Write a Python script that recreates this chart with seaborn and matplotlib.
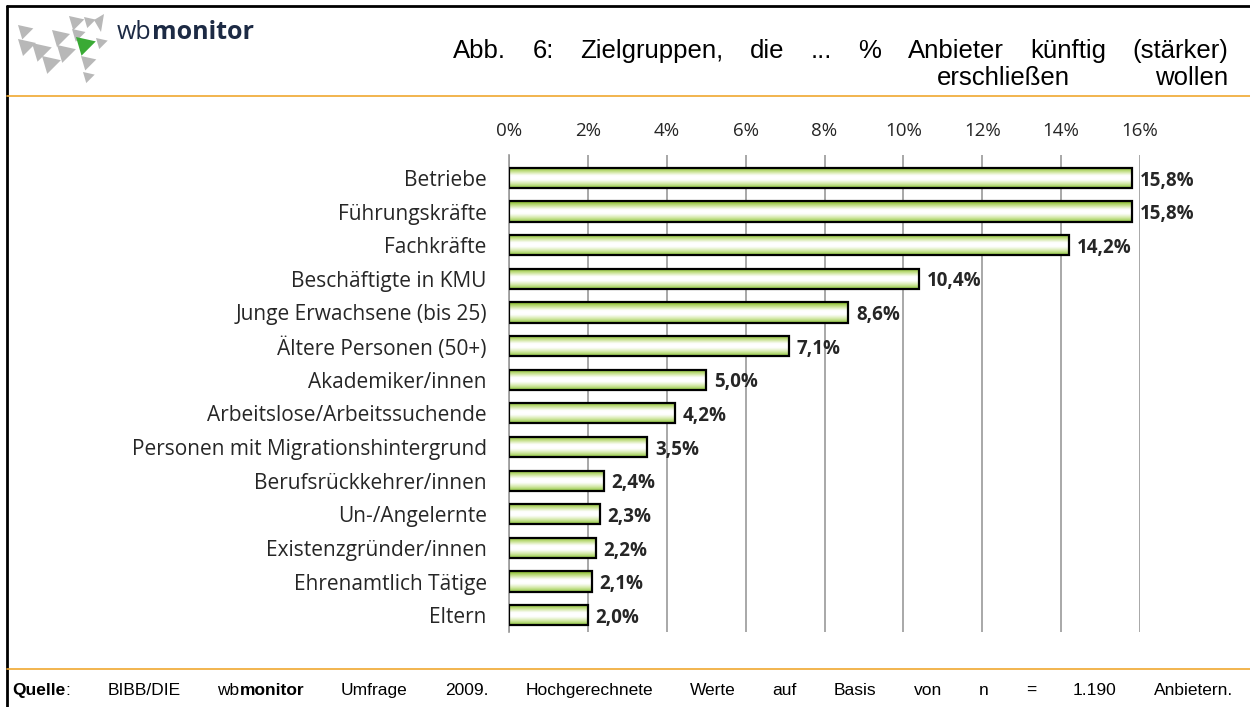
import numpy as np
import pandas as pd
import matplotlib
matplotlib.use('Agg')
import matplotlib.pyplot as plt
import seaborn as sns
from matplotlib.patches import Polygon
from matplotlib.lines import Line2D
from matplotlib.colors import LinearSegmentedColormap

# Data
groups = ['Betriebe', 'Führungskräfte', 'Fachkräfte', 'Beschäftigte in KMU',
          'Junge Erwachsene (bis 25)', 'Ältere Personen (50+)', 'Akademiker/innen',
          'Arbeitslose/Arbeitssuchende', 'Personen mit Migrationshintergrund',
          'Berufsrückkehrer/innen', 'Un-/Angelernte', 'Existenzgründer/innen',
          'Ehrenamtlich Tätige', 'Eltern']
shares = [15.8, 15.8, 14.2, 10.4, 8.6, 7.1, 5.0, 4.2, 3.5, 2.4, 2.3, 2.2, 2.1, 2.0]
ticks = [0, 2, 4, 6, 8, 10, 12, 14, 16]

df = pd.DataFrame({'Zielgruppe': groups, 'Anteil': shares})

sns.set_style('white')
plt.rcParams['font.family'] = ['Open Sans', 'DejaVu Sans']
ARIAL = ['Liberation Sans', 'DejaVu Sans']

fig = plt.figure(figsize=(12.5, 7.07), dpi=100)
W, H = 1250, 707
ax = fig.add_axes([509 / W, 1 - 632 / H, 631 / W, (632 - 155) / H])

sns.barplot(data=df, x='Anteil', y='Zielgruppe', orient='h', ax=ax,
            color='white', edgecolor='black', linewidth=1.6, width=0.6,
            zorder=3)

# gradient fill: green at the edges, white in the middle
cmap = LinearSegmentedColormap.from_list(
    'g', ['#7fb51e', '#c5e08a', '#ffffff', '#ffffff', '#d3e8a6', '#8cc43a'])
grad = np.linspace(0, 1, 64).reshape(-1, 1)
for bar in ax.patches:
    x0, y0 = bar.get_x(), bar.get_y()
    w, h = bar.get_width(), bar.get_height()
    im = ax.imshow(grad, cmap=cmap, aspect='auto',
                   extent=[x0, x0 + w, y0 + h, y0], zorder=3.5,
                   interpolation='bicubic')
    im.set_clip_path(bar)
    bar.set_facecolor('none')
    bar.set_zorder(4)

ax.set_xlim(0, 16)
ax.set_ylim(13.5, -0.68)
ax.set_xticks(ticks)
ax.set_xticklabels([f'{t}%' for t in ticks], fontsize=13.5)
ax.xaxis.tick_top()
ax.tick_params(axis='x', length=0, pad=11)
ax.tick_params(axis='y', length=0, pad=16, labelsize=15)
ax.set_xlabel('')
ax.set_ylabel('')
ax.grid(axis='x', color='#9a9a9a', linewidth=1.2, zorder=0)
for s in ['top', 'right', 'bottom']:
    ax.spines[s].set_visible(False)
ax.spines['left'].set_color('#9a9a9a')
ax.spines['left'].set_linewidth(1.2)

for i, v in enumerate(shares):
    ax.text(v + 0.2, i + 0.08, f'{v:.1f}%'.replace('.', ','), va='center',
            ha='left', fontsize=13.5, fontweight='bold', zorder=5)

# frame and separator lines
fig.add_artist(Line2D([7 / W, 7 / W], [0, 1 - 6 / H], color='black', lw=2))
fig.add_artist(Line2D([7 / W, 1], [1 - 6 / H, 1 - 6 / H], color='black', lw=2))
fig.add_artist(Line2D([7 / W, 1], [1 - 96 / H, 1 - 96 / H], color='#f0a830', lw=1.2))
fig.add_artist(Line2D([7 / W, 1], [1 - 669 / H, 1 - 669 / H], color='#f0a830', lw=1.2))

# logo triangles (same shape, different anchor and scale)
def tri(x, y, s, color='#b8b8b8'):
    pts = [(x, y), (x + 18 * s, y + 4 * s), (x + 5 * s, y + 17 * s)]
    fig.add_artist(Polygon([(px / W, 1 - py / H) for px, py in pts], closed=True,
                           facecolor=color, edgecolor='none'))

for x, y, s in [(18, 25, 0.85), (18, 39, 1.0), (32, 43, 1.1), (42, 56, 1.05),
                (52, 30, 1.0), (57, 45, 1.05), (69, 16, 0.85), (72, 29, 0.75),
                (84, 17, 0.65), (96, 38, 0.65), (81, 56, 0.85), (83, 72, 0.65)]:
    tri(x, y, s)
fig.add_artist(Polygon([(94 / W, 1 - 20 / H), (104 / W, 1 - 14 / H), (101 / W, 1 - 32 / H)],
                       closed=True, facecolor='#b8b8b8', edgecolor='none'))
tri(76, 37, 1.1, '#3aaa35')

fig.canvas.draw()
r = fig.canvas.get_renderer()


def put_word(x, y, segs, size, family, color='black', dry=False):
    start = x
    for txt, wt in segs:
        t = fig.text(x / W, 1 - y / H, txt, fontsize=size, fontweight=wt,
                     family=family, va='baseline', ha='left', color=color)
        x += t.get_window_extent(r).width
        if dry:
            t.remove()
    return x - start


def justified(words, x0, x1, y, size, family):
    # spread words evenly between x0 and x1 (the original text is letter-spaced)
    widths = [put_word(0, y, wd, size, family, dry=True) for wd in words]
    gap = (x1 - x0 - sum(widths)) / (len(words) - 1)
    x = x0
    for wd, w in zip(words, widths):
        put_word(x, y, wd, size, family)
        x += w + gap


put_word(117, 39, [('wb', 'normal'), ('monitor', 'bold')], 18,
         ['Open Sans', 'DejaVu Sans'], color='#1c2a44')

title1 = 'Abb. 6: Zielgruppen, die ... % Anbieter künftig (stärker)'.split(' ')
title2 = 'erschließen wollen'.split(' ')
justified([[(w, 'normal')] for w in title1], 453, 1228, 58, 18.5, ARIAL)
justified([[(w, 'normal')] for w in title2], 937, 1228, 85, 18.5, ARIAL)

footer = [[('Quelle', 'bold'), (':', 'normal')], [('BIBB/DIE', 'normal')],
          [('wb', 'normal'), ('monitor', 'bold')]]
footer += [[(w, 'normal')] for w in
           'Umfrage 2009. Hochgerechnete Werte auf Basis von n = 1.190 Anbietern.'.split(' ')]
justified(footer, 12, 1233, 695, 12.5, ARIAL)

fig.savefig('out.png', dpi=100)
